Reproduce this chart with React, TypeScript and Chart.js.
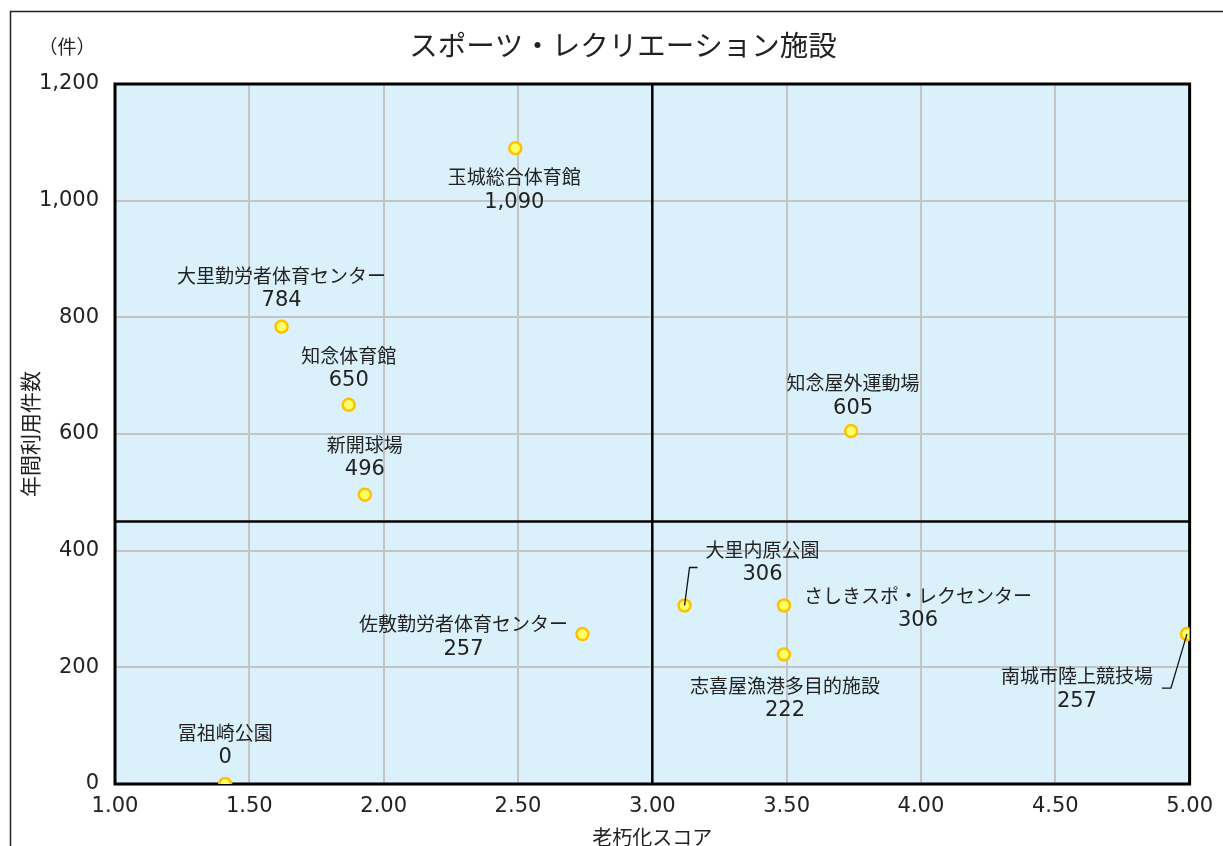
import React, { useEffect, useRef } from "react";
import { Chart, registerables } from "chart.js";

Chart.register(...registerables);

// ---- data ----
const facilityNames = [
  "玉城総合体育館",
  "大里勤労者体育センター",
  "知念体育館",
  "新開球場",
  "知念屋外運動場",
  "大里内原公園",
  "さしきスポ・レクセンター",
  "志喜屋漁港多目的施設",
  "南城市陸上競技場",
  "佐敷勤労者体育センター",
  "冨祖崎公園",
];
const agingScores = [2.49, 1.62, 1.87, 1.93, 3.74, 3.12, 3.49, 3.49, 4.99, 2.74, 1.41];
const annualUsage = [1090, 784, 650, 496, 605, 306, 306, 222, 257, 257, 0];

const chartTitle = "スポーツ・レクリエーション施設";
const xAxisTitle = "老朽化スコア";
const yAxisTitle = "年間利用件数";
const yUnit = "（件）";
const xMin = 1.0;
const xMax = 5.0;
const xStep = 0.5;
const yMin = 0;
const yMax = 1200;
const yStep = 200;
const quadrantX = 3.0;
const quadrantY = 450;

// ---- label layout (pixel offsets of the label block from its point) ----
const labelOffsets: [number, number][] = [
  [-1, 29],
  [0, -51],
  [0, -49],
  [0, -50],
  [2, -48],
  [78, -56],
  [134, -10],
  [1, 31],
  [-110, 42],
  [-119, -10],
  [0, -51],
];
// leader lines: index -> list of [dx, dy] relative to point
const leaderLines: Record<number, [number, number][]> = {
  5: [[0, 0], [5, -38], [13, -38]],
  8: [[0, 0], [-16, 54], [-25, 54]],
};

const JP = '"Noto Sans CJK JP", "Noto Sans", sans-serif';
const NUM = '"DejaVu Sans", "Noto Sans CJK JP", sans-serif';

const decorPlugin = {
  id: "decor",
  beforeDraw(chart: any) {
    const { ctx, chartArea: a, width, height } = chart;
    ctx.save();
    ctx.fillStyle = "#ffffff";
    ctx.fillRect(0, 0, width, height);
    ctx.strokeStyle = "#222";
    ctx.lineWidth = 1.5;
    ctx.beginPath();
    ctx.moveTo(10.5, height + 5);
    ctx.lineTo(10.5, 11.5);
    ctx.lineTo(width + 5, 11.5);
    ctx.stroke();
    ctx.fillStyle = "#DAF1FC";
    ctx.fillRect(a.left, a.top, a.right - a.left, a.bottom - a.top);
    ctx.restore();
  },
  beforeDatasetsDraw(chart: any) {
    const { ctx, chartArea: a } = chart;
    ctx.save();
    ctx.strokeStyle = "#000";
    ctx.lineWidth = 3;
    ctx.strokeRect(a.left, a.top, a.right - a.left, a.bottom - a.top);
    ctx.restore();
  },
  afterDatasetsDraw(chart: any) {
    const { ctx } = chart;
    const xs = chart.scales.x;
    const ys = chart.scales.y;
    ctx.save();
    // leader lines
    ctx.strokeStyle = "#111";
    ctx.lineWidth = 1.3;
    Object.keys(leaderLines).forEach((k) => {
      const i = Number(k);
      const px = xs.getPixelForValue(agingScores[i]);
      const py = ys.getPixelForValue(annualUsage[i]);
      const pts = leaderLines[i];
      ctx.beginPath();
      pts.forEach(([dx, dy], j) => {
        if (j === 0) ctx.moveTo(px + dx, py + dy);
        else ctx.lineTo(px + dx, py + dy);
      });
      ctx.stroke();
    });
    // data labels
    ctx.fillStyle = "#222";
    ctx.textAlign = "center";
    ctx.textBaseline = "middle";
    facilityNames.forEach((name, i) => {
      const px = xs.getPixelForValue(agingScores[i]);
      const py = ys.getPixelForValue(annualUsage[i]);
      const [dx, dy] = labelOffsets[i];
      ctx.font = `19px ${JP}`;
      ctx.fillText(name, px + dx, py + dy);
      ctx.font = `21px ${NUM}`;
      ctx.fillText(annualUsage[i].toLocaleString("en-US"), px + dx, py + dy + 25);
    });
    // titles
    ctx.font = `28.5px ${JP}`;
    ctx.fillText(chartTitle, 623, 45);
    ctx.font = `19px ${JP}`;
    ctx.fillText(yUnit, 67, 47);
    ctx.font = `20px ${JP}`;
    ctx.fillText(xAxisTitle, xs.getPixelForValue(quadrantX), 837);
    ctx.translate(30, 434);
    ctx.rotate(-Math.PI / 2);
    ctx.font = `21px ${JP}`;
    ctx.fillText(yAxisTitle, 0, 0);
    ctx.restore();
  },
};

export default function App() {
  const ref = useRef<HTMLCanvasElement>(null);
  useEffect(() => {
    document.body.style.margin = "0";
    const points = agingScores.map((x, i) => ({ x, y: annualUsage[i] }));
    const chart = new Chart(ref.current as HTMLCanvasElement, {
      type: "scatter",
      data: {
        datasets: [
          {
            label: "施設",
            data: points,
            backgroundColor: "#FFFF66",
            borderColor: "#FFC000",
            borderWidth: 2.5,
            pointRadius: 6,
            order: 0,
          },
          {
            label: "qx",
            type: "line",
            data: [
              { x: quadrantX, y: yMin },
              { x: quadrantX, y: yMax },
            ],
            borderColor: "#000",
            borderWidth: 2.5,
            pointRadius: 0,
            showLine: true,
            order: 1,
          } as any,
          {
            label: "qy",
            type: "line",
            data: [
              { x: xMin, y: quadrantY },
              { x: xMax, y: quadrantY },
            ],
            borderColor: "#000",
            borderWidth: 2.5,
            pointRadius: 0,
            showLine: true,
            order: 1,
          } as any,
        ],
      },
      options: {
        animation: false,
        responsive: true,
        maintainAspectRatio: false,
        layout: { padding: { top: 84, right: 33, left: 0, bottom: 0 } },
        plugins: {
          legend: { display: false },
          tooltip: { enabled: false },
          title: { display: false },
        },
        scales: {
          x: {
            type: "linear",
            min: xMin,
            max: xMax,
            afterFit: (s: any) => {
              s.height = 62;
            },
            ticks: {
              stepSize: xStep,
              padding: 10,
              color: "#222",
              font: { family: NUM, size: 21 },
              callback: (v: any) => Number(v).toFixed(2),
            },
            grid: { color: "#C4C4C4", lineWidth: 2, drawTicks: false },
            border: { display: false },
          },
          y: {
            type: "linear",
            min: yMin,
            max: yMax,
            afterFit: (s: any) => {
              s.width = 115;
            },
            ticks: {
              stepSize: yStep,
              padding: 16,
              color: "#222",
              font: { family: NUM, size: 21 },
              callback: (v: any) => Number(v).toLocaleString("en-US"),
            },
            grid: { color: "#C4C4C4", lineWidth: 2, drawTicks: false },
            border: { display: false },
          },
        },
      },
      plugins: [decorPlugin],
    });
    return () => chart.destroy();
  }, []);
  return (
    <div style={{ position: "fixed", left: 0, top: 0, width: 1223, height: 846 }}>
      <canvas ref={ref} />
    </div>
  );
}
